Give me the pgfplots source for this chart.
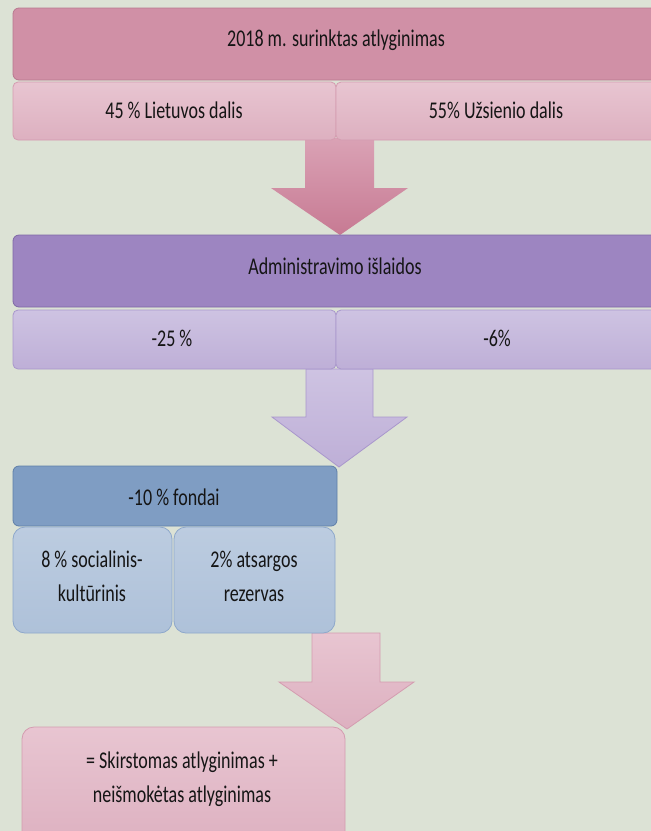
\documentclass[border=0pt]{standalone}
\usepackage{fontspec}
\setmainfont{Carlito}[FakeStretch=0.75]
\usepackage{pgfplots}
\pgfplotsset{compat=1.18}
\definecolor{bg}{HTML}{DCE2D5}
\definecolor{txt}{HTML}{151515}
\definecolor{pinkA}{HTML}{D090A6}
\definecolor{pinkAb}{HTML}{B9788F}
\definecolor{pinkT}{HTML}{E8C5D1}
\definecolor{pinkB}{HTML}{DDB0C0}
\definecolor{pinkL}{HTML}{D49CB0}
\definecolor{arrA}{HTML}{DAA2B5}
\definecolor{arrB}{HTML}{C77A93}
\definecolor{purA}{HTML}{9D85C1}
\definecolor{purAb}{HTML}{7E68A5}
\definecolor{lavT}{HTML}{CEC3E2}
\definecolor{lavB}{HTML}{BEAFD7}
\definecolor{lavL}{HTML}{A997CC}
\definecolor{bluA}{HTML}{7F9DC3}
\definecolor{bluAb}{HTML}{5F7FA8}
\definecolor{lbT}{HTML}{BCCCE0}
\definecolor{lbB}{HTML}{AEC1D9}
\definecolor{lbL}{HTML}{8EA8CB}
\begin{document}
\begin{tikzpicture}
\begin{axis}[hide axis, scale only axis, width=651pt, height=831pt,
  xmin=0, xmax=651, ymin=0, ymax=831, y dir=reverse, clip=true]
% background
\addplot[fill=bg, draw=none] coordinates {(0,0) (651,0) (651,831) (0,831)} -- cycle;

% arrows (behind boxes)
\addplot[top color=arrA, bottom color=arrB, draw=none] coordinates {
  (305,138) (374,138) (374,188) (408,188) (340,235) (271,188) (305,188)} -- cycle;
\addplot[top color=lavT, bottom color=lavB, draw=lavL, line width=0.8pt] coordinates {
  (306,369) (373,369) (373,417) (407,417) (339,467) (272,417) (306,417)} -- cycle;
\addplot[top color=pinkT, bottom color=pinkB, draw=pinkL, line width=0.8pt] coordinates {
  (312,633) (380,633) (380,682) (414,682) (347,729) (279,682) (312,682)} -- cycle;

% top block
\addplot[fill=pinkA, draw=pinkAb, line width=0.8pt, rounded corners=6pt] coordinates {
  (13,8) (670,8) (670,80) (13,80)} -- cycle;
\addplot[top color=pinkT, bottom color=pinkB, draw=pinkL, line width=0.8pt, rounded corners=5pt] coordinates {
  (13,82) (336,82) (336,140) (13,140)} -- cycle;
\addplot[top color=pinkT, bottom color=pinkB, draw=pinkL, line width=0.8pt, rounded corners=5pt] coordinates {
  (336,82) (670,82) (670,140) (336,140)} -- cycle;

% purple block
\addplot[fill=purA, draw=purAb, line width=0.8pt, rounded corners=6pt] coordinates {
  (13,235) (670,235) (670,307) (13,307)} -- cycle;
\addplot[top color=lavT, bottom color=lavB, draw=lavL, line width=0.8pt, rounded corners=5pt] coordinates {
  (13,310) (336,310) (336,369) (13,369)} -- cycle;
\addplot[top color=lavT, bottom color=lavB, draw=lavL, line width=0.8pt, rounded corners=5pt] coordinates {
  (336,310) (670,310) (670,369) (336,369)} -- cycle;

% blue block
\addplot[fill=bluA, draw=bluAb, line width=0.8pt, rounded corners=6pt] coordinates {
  (13,466) (337,466) (337,526) (13,526)} -- cycle;
\addplot[top color=lbT, bottom color=lbB, draw=lbL, line width=0.8pt, rounded corners=12pt] coordinates {
  (13,527) (172,527) (172,633) (13,633)} -- cycle;
\addplot[top color=lbT, bottom color=lbB, draw=lbL, line width=0.8pt, rounded corners=12pt] coordinates {
  (174,527) (335,527) (335,633) (174,633)} -- cycle;

% final box
\addplot[top color=pinkT, bottom color=pinkB, draw=pinkL, line width=0.8pt, rounded corners=12pt] coordinates {
  (22,727) (345,727) (345,850) (22,850)} -- cycle;

% texts
\tikzset{lbl/.style={text=txt, font=\fontsize{24}{34}\selectfont, align=center, inner sep=0pt}}
\node[lbl] at (axis cs:336,40) {2018 m. surinktas atlyginimas};
\node[lbl] at (axis cs:174,110) {45 \% Lietuvos dalis};
\node[lbl] at (axis cs:496,110) {55\% Užsienio dalis};
\node[lbl] at (axis cs:335,266) {Administravimo išlaidos};
\node[lbl] at (axis cs:172,338) {-25 \%};
\node[lbl] at (axis cs:497,338) {-6\%};
\node[lbl] at (axis cs:174,497) {-10 \% fondai};
\node[lbl] at (axis cs:92,576) {8 \% socialinis-\\kultūrinis};
\node[lbl] at (axis cs:254,576) {2\% atsargos\\rezervas};
\node[lbl] at (axis cs:182,779) {= Skirstomas atlyginimas +\\neišmokėtas atlyginimas};
\end{axis}
\pgfresetboundingbox
\path (current axis.south west) rectangle (current axis.north east);
\end{tikzpicture}
\end{document}
